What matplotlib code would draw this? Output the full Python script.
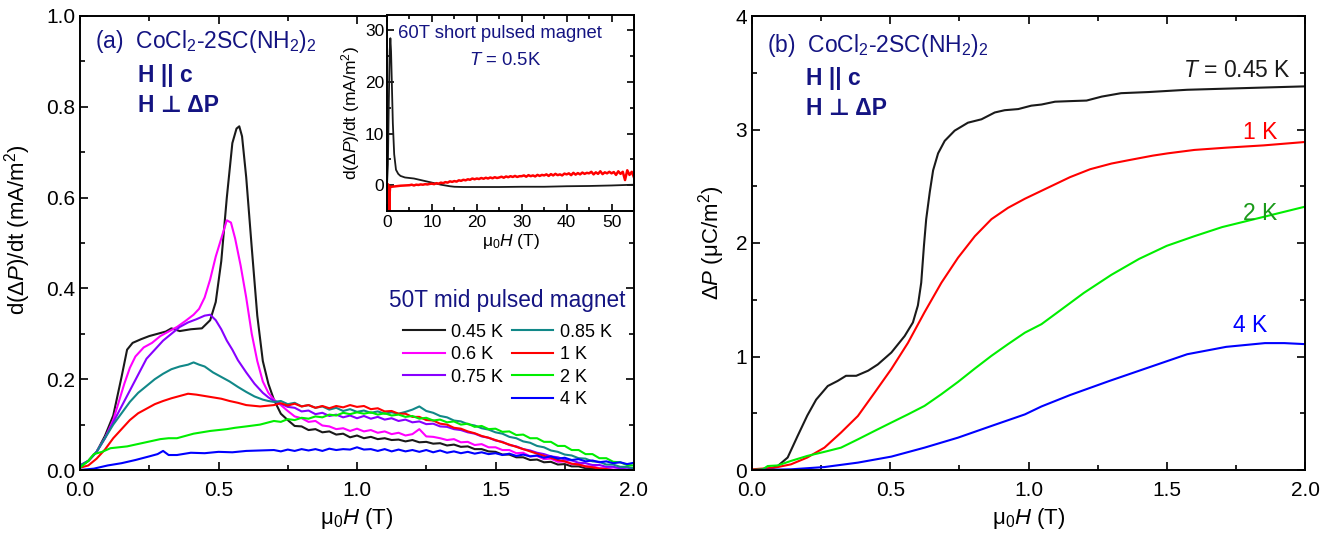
import matplotlib
matplotlib.use("Agg")
import matplotlib.pyplot as plt
from matplotlib.lines import Line2D
from matplotlib.ticker import MultipleLocator, FormatStrFormatter

plt.rcParams['font.family'] = ['Liberation Sans', 'DejaVu Sans']
plt.rcParams['mathtext.fontset'] = 'custom'
plt.rcParams['mathtext.rm'] = 'Liberation Sans'
plt.rcParams['mathtext.it'] = 'Liberation Sans:italic'
plt.rcParams['mathtext.bf'] = 'Liberation Sans:bold'

# ---------------- Panel (a) data: d(dP)/dt vs field ----------------
H_tail = [0.700, 0.725, 0.750, 0.775, 0.800, 0.825, 0.850, 0.875, 0.900, 0.925, 0.950, 0.975,
          1.000, 1.025, 1.050, 1.075, 1.100, 1.125, 1.150, 1.175, 1.200, 1.225, 1.250, 1.275,
          1.300, 1.325, 1.350, 1.375, 1.400, 1.425, 1.450, 1.475, 1.500, 1.525, 1.550, 1.575,
          1.600, 1.625, 1.650, 1.675, 1.700, 1.725, 1.750, 1.775, 1.800, 1.825, 1.850, 1.875,
          1.900, 1.925, 1.950, 1.975, 2.000]

H_045 = [0.00, 0.03, 0.06, 0.09, 0.12, 0.15, 0.17, 0.19, 0.22, 0.25, 0.28, 0.31, 0.33, 0.36, 0.40,
         0.44, 0.47, 0.49, 0.51, 0.53, 0.55, 0.565, 0.575, 0.585, 0.60, 0.62, 0.64, 0.66, 0.68] + H_tail
V_045 = [0.008, 0.02, 0.04, 0.075, 0.12, 0.205, 0.265, 0.28, 0.288, 0.295, 0.300, 0.305, 0.312, 0.306, 0.310,
         0.312, 0.33, 0.37, 0.46, 0.60, 0.72, 0.752, 0.757, 0.735, 0.645, 0.49, 0.34, 0.24, 0.19,
         0.155, 0.124, 0.110, 0.097, 0.096, 0.088, 0.090, 0.083, 0.085, 0.078, 0.080, 0.072,
         0.076, 0.070, 0.073, 0.068, 0.070, 0.066, 0.067, 0.063, 0.066, 0.061, 0.062, 0.058,
         0.059, 0.054, 0.056, 0.051, 0.052, 0.046, 0.046, 0.041, 0.040, 0.034, 0.034, 0.028,
         0.028, 0.022, 0.023, 0.017, 0.018, 0.012, 0.013, 0.008, 0.008, 0.004, 0.004, 0.001,
         0.001, -0.001, -0.002, -0.002, -0.002]

H_06 = [0.00, 0.03, 0.06, 0.09, 0.12, 0.14, 0.16, 0.18, 0.20, 0.23, 0.26, 0.29, 0.32, 0.35, 0.38, 0.41,
        0.43, 0.45, 0.47, 0.49, 0.51, 0.53, 0.545, 0.56, 0.58, 0.60, 0.62, 0.64, 0.66, 0.68] + H_tail
V_06 = [0.010, 0.02, 0.04, 0.07, 0.11, 0.15, 0.19, 0.225, 0.25, 0.27, 0.28, 0.295, 0.305, 0.315, 0.328, 0.342,
        0.355, 0.38, 0.42, 0.47, 0.51, 0.55, 0.545, 0.51, 0.45, 0.38, 0.30, 0.24, 0.195, 0.17,
        0.155, 0.143, 0.130, 0.118, 0.114, 0.106, 0.108, 0.098, 0.096, 0.090, 0.092, 0.086,
        0.091, 0.085, 0.088, 0.082, 0.085, 0.079, 0.082, 0.076, 0.079, 0.090, 0.074, 0.073,
        0.070, 0.066, 0.068, 0.061, 0.062, 0.055, 0.057, 0.050, 0.050, 0.044, 0.044, 0.037,
        0.038, 0.030, 0.031, 0.024, 0.025, 0.018, 0.019, 0.013, 0.013, 0.008, 0.008, 0.004,
        0.004, 0.001, 0.002, 0.000, 0.001]

H_075 = [0.00, 0.03, 0.06, 0.09, 0.12, 0.15, 0.18, 0.21, 0.24, 0.27, 0.30, 0.33, 0.36, 0.39, 0.42, 0.45,
         0.47, 0.49, 0.51, 0.53, 0.55, 0.57, 0.60, 0.63, 0.66, 0.68] + H_tail
V_075 = [0.010, 0.02, 0.04, 0.07, 0.105, 0.14, 0.175, 0.21, 0.245, 0.265, 0.285, 0.300, 0.315, 0.325, 0.332, 0.340,
         0.342, 0.330, 0.310, 0.285, 0.265, 0.242, 0.215, 0.190, 0.170, 0.160,
         0.152, 0.146, 0.139, 0.137, 0.129, 0.131, 0.123, 0.126, 0.119, 0.122, 0.116, 0.120,
         0.114, 0.119, 0.113, 0.117, 0.111, 0.114, 0.108, 0.111, 0.105, 0.107, 0.101, 0.102,
         0.096, 0.095, 0.090, 0.088, 0.083, 0.080, 0.074, 0.071, 0.065, 0.062, 0.055, 0.052,
         0.046, 0.043, 0.038, 0.035, 0.030, 0.028, 0.023, 0.021, 0.016, 0.015, 0.011, 0.011,
         0.007, 0.007, 0.004, 0.005, 0.003]

H_085 = [0.00, 0.03, 0.06, 0.09, 0.12, 0.15, 0.18, 0.21, 0.24, 0.27, 0.30, 0.33, 0.36, 0.39, 0.41, 0.43,
         0.45, 0.48, 0.51, 0.54, 0.57, 0.60, 0.63, 0.66, 0.68] + H_tail
V_085 = [0.010, 0.02, 0.04, 0.07, 0.10, 0.125, 0.15, 0.17, 0.185, 0.20, 0.212, 0.222, 0.228, 0.232, 0.237, 0.232,
         0.228, 0.215, 0.205, 0.195, 0.183, 0.172, 0.162, 0.155, 0.152,
         0.150, 0.152, 0.145, 0.148, 0.140, 0.143, 0.137, 0.140, 0.133, 0.137, 0.130, 0.134,
         0.128, 0.131, 0.126, 0.129, 0.124, 0.127, 0.124, 0.128, 0.133, 0.140, 0.130, 0.126,
         0.119, 0.116, 0.109, 0.107, 0.101, 0.098, 0.092, 0.089, 0.083, 0.080, 0.073, 0.070,
         0.063, 0.060, 0.053, 0.050, 0.043, 0.040, 0.034, 0.032, 0.026, 0.025, 0.019, 0.018,
         0.012, 0.012, 0.007, 0.007, 0.004]

H_1 = [0.00, 0.03, 0.06, 0.09, 0.12, 0.15, 0.18, 0.21, 0.24, 0.27, 0.30, 0.33, 0.36, 0.39, 0.42, 0.45,
       0.48, 0.51, 0.54, 0.57, 0.60, 0.65] + H_tail
V_1 = [0.005, 0.010, 0.025, 0.045, 0.070, 0.090, 0.110, 0.125, 0.135, 0.145, 0.152, 0.158, 0.163, 0.168, 0.166, 0.163,
       0.160, 0.157, 0.152, 0.148, 0.143, 0.140,
       0.143, 0.147, 0.142, 0.146, 0.140, 0.143, 0.137, 0.141, 0.136, 0.141, 0.138, 0.143,
       0.139, 0.141, 0.134, 0.136, 0.129, 0.130, 0.124, 0.124, 0.117, 0.117, 0.110, 0.109,
       0.102, 0.100, 0.093, 0.091, 0.085, 0.081, 0.075, 0.071, 0.066, 0.061, 0.056, 0.051,
       0.046, 0.041, 0.036, 0.031, 0.027, 0.022, 0.019, 0.014, 0.012, 0.008, 0.006, 0.003,
       0.002, -0.001, -0.002, -0.003, -0.003]

H_2 = [0.00, 0.03, 0.05, 0.08, 0.11, 0.14, 0.17, 0.20, 0.23, 0.26, 0.29, 0.32, 0.35, 0.38, 0.41, 0.44,
       0.47, 0.50, 0.53, 0.56, 0.60, 0.65] + H_tail
V_2 = [0.005, 0.020, 0.035, 0.040, 0.048, 0.050, 0.052, 0.056, 0.060, 0.064, 0.068, 0.070, 0.070, 0.075, 0.080, 0.083,
       0.086, 0.088, 0.090, 0.093, 0.096, 0.100,
       0.108, 0.106, 0.112, 0.110, 0.115, 0.113, 0.118, 0.116, 0.122, 0.120, 0.126, 0.123,
       0.127, 0.124, 0.127, 0.122, 0.125, 0.120, 0.122, 0.117, 0.119, 0.113, 0.115, 0.109,
       0.111, 0.105, 0.107, 0.100, 0.102, 0.095, 0.097, 0.090, 0.091, 0.084, 0.085, 0.077,
       0.078, 0.070, 0.070, 0.062, 0.062, 0.053, 0.053, 0.044, 0.044, 0.035, 0.035, 0.026,
       0.026, 0.018, 0.017, 0.011, 0.010]

H_4 = [0.00, 0.05, 0.10, 0.15, 0.20, 0.25, 0.28, 0.30, 0.32, 0.35, 0.40, 0.45, 0.50, 0.55, 0.60, 0.65] + H_tail
V_4 = [0.000, 0.003, 0.010, 0.015, 0.022, 0.030, 0.035, 0.042, 0.033, 0.033, 0.038, 0.037, 0.040, 0.039, 0.042, 0.043,
       0.044, 0.041, 0.045, 0.042, 0.046, 0.043, 0.046, 0.042, 0.047, 0.044, 0.046, 0.045,
       0.050, 0.045, 0.046, 0.042, 0.046, 0.041, 0.045, 0.041, 0.044, 0.040, 0.044, 0.039,
       0.043, 0.038, 0.041, 0.037, 0.040, 0.036, 0.039, 0.035, 0.037, 0.033, 0.036, 0.031,
       0.034, 0.030, 0.032, 0.027, 0.030, 0.025, 0.027, 0.022, 0.024, 0.019, 0.021, 0.017,
       0.019, 0.015, 0.017, 0.013, 0.016]

labels_a = ['0.45 K', '0.6 K', '0.75 K', '0.85 K', '1 K', '2 K', '4 K']
colors_a = ['#1a1a1a', '#ff00ff', '#8800ff', '#118888', '#ff0000', '#00ee00', '#0000ff']

# ---------------- Inset data: 60T short pulse, T = 0.5 K ----------------
Hin_black = [0, 0.2, 0.4, 0.6, 0.75, 0.9, 1.1, 1.3, 1.6, 2.0, 2.5, 3.0, 4, 5, 6, 7, 8, 9, 10, 11, 12,
             13, 14, 15, 17, 20, 25, 30, 35, 40, 45, 50, 55]
Vin_black = [0, 4, 16, 26, 28.5, 26, 19, 12, 6, 3, 2.2, 1.8, 1.5, 1.4, 1.3, 1.1, 0.9, 0.7, 0.5, 0.3, 0.1,
             -0.05, -0.2, -0.3, -0.35, -0.35, -0.35, -0.3, -0.3, -0.2, -0.15, -0.05, 0.1]
Hin_red = [0, 0.3, 0.45, 0.5, 0.55, 0.7, 1, 2, 3, 4,
           5.0, 5.5, 6.0, 6.5, 7.0, 7.5, 8.0, 8.5, 9.0, 9.5,
           10.0, 10.5, 11.0, 11.5, 12.0, 12.5, 13.0, 13.5, 14.0, 14.5,
           15.0, 15.5, 16.0, 16.5, 17.0, 17.5, 18.0, 18.5, 19.0, 19.5,
           20.0, 20.5, 21.0, 21.5, 22.0, 22.5, 23.0, 23.5, 24.0, 24.5,
           25.0, 25.5, 26.0, 26.5, 27.0, 27.5, 28.0, 28.5, 29.0, 29.5,
           30.0, 30.5, 31.0, 31.5, 32.0, 32.5, 33.0, 33.5, 34.0, 34.5,
           35.0, 35.5, 36.0, 36.5, 37.0, 37.5, 38.0, 38.5, 39.0, 39.5,
           40.0, 40.5, 41.0, 41.5, 42.0, 42.5, 43.0, 43.5, 44.0, 44.5,
           45.0, 45.5, 46.0, 46.5, 47.0, 47.5, 48.0, 48.5, 49.0, 49.5,
           50.0, 50.5, 51.0, 51.5, 52.0, 52.5, 53.0, 53.5, 54.0, 54.5, 55.0]
Vin_red = [0.3, 0.1, -2, -8, -2, -0.3, -0.3, -0.2, -0.1, -0.05,
           0.0, 0.1, -0.05, 0.1, 0.05, 0.15, 0.1, 0.2, 0.15, 0.25,
           0.3, 0.2, 0.4, 0.3, 0.5, 0.4, 0.6, 0.5, 0.75, 0.65,
           0.8, 0.7, 0.95, 0.85, 1.05, 0.95, 1.15, 1.05, 1.3, 1.15,
           1.3, 1.2, 1.4, 1.25, 1.45, 1.3, 1.5, 1.35, 1.55, 1.4,
           1.5, 1.65, 1.45, 1.7, 1.55, 1.75, 1.6, 1.8, 1.6, 1.75,
           1.75, 1.9, 1.65, 1.95, 1.75, 1.9, 1.7, 2.0, 1.8, 2.0,
           1.9, 2.1, 1.8, 2.15, 1.9, 2.2, 1.95, 2.1, 1.9, 2.25,
           2.1, 2.3, 1.95, 2.4, 2.05, 2.35, 2.1, 2.45, 2.2, 2.4,
           2.3, 2.6, 2.1, 2.5, 2.2, 2.7, 2.15, 2.5, 2.3, 2.6,
           2.3, 2.55, 2.0, 2.7, 2.2, 2.6, 1.0, 2.9, 2.0, 2.6, 1.5]

# ---------------- Panel (b) data: dP vs field ----------------
Hb_045 = [0.00, 0.05, 0.093, 0.129, 0.165, 0.20, 0.232, 0.274, 0.31, 0.34, 0.377, 0.42, 0.455, 0.504,
          0.552, 0.582, 0.60, 0.612, 0.622, 0.63, 0.643, 0.655, 0.673, 0.697, 0.733, 0.781, 0.83,
          0.878, 0.914, 0.963, 1.01, 1.047, 1.096, 1.15, 1.21, 1.265, 1.335, 1.434, 1.574, 1.715,
          1.855, 2.00]
Vb_045 = [0.0, 0.0, 0.035, 0.11, 0.30, 0.48, 0.62, 0.74, 0.785, 0.83, 0.83, 0.875, 0.93, 1.035,
          1.18, 1.30, 1.45, 1.65, 1.98, 2.21, 2.45, 2.64, 2.79, 2.90, 2.99, 3.06, 3.09,
          3.15, 3.17, 3.18, 3.21, 3.22, 3.245, 3.25, 3.255, 3.29, 3.32, 3.33, 3.35, 3.36,
          3.37, 3.38]
Hb_1 = [0.00, 0.081, 0.141, 0.20, 0.262, 0.322, 0.383, 0.443, 0.504, 0.564, 0.624, 0.685, 0.745,
        0.806, 0.866, 0.926, 0.987, 1.047, 1.15, 1.223, 1.30, 1.363, 1.45, 1.504, 1.60, 1.715,
        1.85, 2.00]
Vb_1 = [0.006, 0.02, 0.05, 0.11, 0.197, 0.33, 0.476, 0.68, 0.89, 1.12, 1.39, 1.65, 1.87,
        2.06, 2.21, 2.31, 2.39, 2.46, 2.58, 2.65, 2.70, 2.73, 2.77, 2.79, 2.82, 2.84,
        2.86, 2.89]
Hb_2 = [0.00, 0.039, 0.057, 0.093, 0.141, 0.20, 0.262, 0.322, 0.383, 0.443, 0.504, 0.564, 0.624,
        0.685, 0.745, 0.806, 0.866, 0.926, 0.987, 1.047, 1.10, 1.15, 1.20, 1.30, 1.40, 1.50, 1.60,
        1.70, 1.80, 1.90, 2.00]
Vb_2 = [0.0, 0.006, 0.035, 0.04, 0.08, 0.124, 0.16, 0.197, 0.27, 0.344, 0.418, 0.49, 0.565,
        0.668, 0.776, 0.894, 1.006, 1.109, 1.21, 1.285, 1.38, 1.47, 1.56, 1.72, 1.86, 1.975, 2.06,
        2.14, 2.20, 2.26, 2.32]
Hb_4 = [0.00, 0.141, 0.262, 0.383, 0.504, 0.624, 0.745, 0.866, 0.987, 1.047, 1.15, 1.293, 1.434,
        1.574, 1.715, 1.855, 1.925, 2.00]
Vb_4 = [0.0, 0.006, 0.026, 0.065, 0.118, 0.197, 0.285, 0.388, 0.49, 0.56, 0.66, 0.785, 0.903,
        1.02, 1.085, 1.118, 1.118, 1.109]

navy = '#141482'
TICK_FS = 15
ANN_FS = 16.5
LAB_FS = 16

fig = plt.figure(figsize=(13.32, 5.39), dpi=100)
ax_a = fig.add_axes([80 / 1332, 1 - 470 / 539, 554 / 1332, 454 / 539])
ax_b = fig.add_axes([752 / 1332, 1 - 470 / 539, 553 / 1332, 454 / 539])


def style(ax, fs, xpad=8):
    ax.tick_params(which='both', direction='in', top=True, right=True, labelsize=fs, width=1.2)
    ax.tick_params(which='major', length=6)
    ax.tick_params(which='minor', length=3.5)
    ax.tick_params(axis='x', pad=xpad)
    for s in ax.spines.values():
        s.set_linewidth(1.4)


# Panel (a)
series_a = [(H_045, V_045), (H_06, V_06), (H_075, V_075), (H_085, V_085), (H_1, V_1), (H_2, V_2), (H_4, V_4)]
handles = []
for (hx, vy), c, lab in zip(series_a, colors_a, labels_a):
    ln, = ax_a.plot(hx, vy, color=c, lw=1.5, label=lab)
    handles.append(ln)
ax_a.set_xlim(0, 2.0)
ax_a.set_ylim(0, 1.0)
ax_a.xaxis.set_major_locator(MultipleLocator(0.5))
ax_a.xaxis.set_minor_locator(MultipleLocator(0.25))
ax_a.yaxis.set_major_locator(MultipleLocator(0.2))
ax_a.yaxis.set_minor_locator(MultipleLocator(0.1))
ax_a.xaxis.set_major_formatter(FormatStrFormatter('%.1f'))
ax_a.yaxis.set_major_formatter(FormatStrFormatter('%.1f'))
style(ax_a, TICK_FS)
ax_a.set_xlabel(r'μ$_0$$H$ (T)', fontsize=LAB_FS, labelpad=4)
ax_a.set_ylabel(r'd(Δ$P$)/dt (mA/m$^2$)', fontsize=LAB_FS)
ax_a.yaxis.set_label_coords(-0.085, 0.529)

ax_a.text(0.027, 0.943, r'(a)  CoCl$_2$-2SC(NH$_2$)$_2$', transform=ax_a.transAxes,
          fontsize=ANN_FS, color=navy, va='center', ha='left')
ax_a.text(0.105, 0.868, 'H || c', transform=ax_a.transAxes, fontsize=ANN_FS, color=navy,
          fontweight='bold', va='center', ha='left')
ax_a.text(0.105, 0.802, 'H ⊥ ΔP', transform=ax_a.transAxes, fontsize=ANN_FS, color=navy,
          fontweight='bold', va='center', ha='left')
ax_a.text(0.558, 0.374, '50T mid pulsed magnet', transform=ax_a.transAxes, fontsize=16.3,
          color=navy, va='center', ha='left')

blank = Line2D([], [], color='none')
leg_handles = handles[:3] + [blank] + handles[3:]
leg_labels = labels_a[:3] + [''] + labels_a[3:]
ax_a.legend(leg_handles, leg_labels, ncol=2, frameon=False, fontsize=13,
            loc='upper left', bbox_to_anchor=(0.583, 0.322), handlelength=2.3,
            handletextpad=0.35, columnspacing=0.5, labelspacing=0.3, borderpad=0,
            borderaxespad=0)

# Inset
ax_in = fig.add_axes([387 / 1332, 1 - 211 / 539, 247 / 1332, 196 / 539])
ax_in.plot(Hin_black, Vin_black, color='#1a1a1a', lw=1.3)
ax_in.plot(Hin_red, Vin_red, color='#ff0000', lw=1.8)
ax_in.set_xlim(0, 55)
ax_in.set_ylim(-5, 33)
ax_in.xaxis.set_major_locator(MultipleLocator(10))
ax_in.xaxis.set_minor_locator(MultipleLocator(5))
ax_in.yaxis.set_major_locator(MultipleLocator(10))
ax_in.yaxis.set_minor_locator(MultipleLocator(5))
style(ax_in, 12.5, xpad=3)
ax_in.tick_params(which='major', length=5)
ax_in.tick_params(which='minor', length=3)
ax_in.tick_params(axis='y', pad=2)
ax_in.set_xlabel(r'μ$_0$$H$ (T)', fontsize=12.5, labelpad=1)
ax_in.set_ylabel(r'd(Δ$P$)/dt (mA/m$^2$)', fontsize=12.5, labelpad=2)
ax_in.text(0.045, 0.905, '60T short pulsed magnet', transform=ax_in.transAxes, fontsize=13.3,
           color=navy, va='center', ha='left')
ax_in.text(0.48, 0.77, r'$T$ = 0.5K', transform=ax_in.transAxes, fontsize=13.3,
           color=navy, va='center', ha='center')

# Panel (b)
ax_b.plot(Hb_045, Vb_045, color='#1a1a1a', lw=1.5)
ax_b.plot(Hb_1, Vb_1, color='#ff0000', lw=1.5)
ax_b.plot(Hb_2, Vb_2, color='#00ee00', lw=1.5)
ax_b.plot(Hb_4, Vb_4, color='#0000ff', lw=1.5)
ax_b.set_xlim(0, 2.0)
ax_b.set_ylim(0, 4)
ax_b.xaxis.set_major_locator(MultipleLocator(0.5))
ax_b.xaxis.set_minor_locator(MultipleLocator(0.25))
ax_b.yaxis.set_major_locator(MultipleLocator(1))
ax_b.yaxis.set_minor_locator(MultipleLocator(0.5))
ax_b.xaxis.set_major_formatter(FormatStrFormatter('%.1f'))
style(ax_b, TICK_FS)
ax_b.set_xlabel(r'μ$_0$$H$ (T)', fontsize=LAB_FS, labelpad=4)
ax_b.set_ylabel(r'Δ$P$ (μC/m$^2$)', fontsize=LAB_FS, labelpad=6)

ax_b.text(0.027, 0.936, r'(b)  CoCl$_2$-2SC(NH$_2$)$_2$', transform=ax_b.transAxes,
          fontsize=ANN_FS, color=navy, va='center', ha='left')
ax_b.text(0.098, 0.863, 'H || c', transform=ax_b.transAxes, fontsize=ANN_FS, color=navy,
          fontweight='bold', va='center', ha='left')
ax_b.text(0.098, 0.797, 'H ⊥ ΔP', transform=ax_b.transAxes, fontsize=ANN_FS, color=navy,
          fontweight='bold', va='center', ha='left')
ax_b.text(0.975, 0.881, r'$T$ = 0.45 K', transform=ax_b.transAxes, fontsize=ANN_FS, color='#1a1a1a',
          va='center', ha='right')
ax_b.text(0.95, 0.744, '1 K', transform=ax_b.transAxes, fontsize=ANN_FS, color='#ff0000',
          va='center', ha='right')
ax_b.text(0.95, 0.566, '2 K', transform=ax_b.transAxes, fontsize=ANN_FS, color='#1a9a1a',
          va='center', ha='right')
ax_b.text(0.932, 0.319, '4 K', transform=ax_b.transAxes, fontsize=ANN_FS, color='#0000ff',
          va='center', ha='right')

fig.savefig('out.png', dpi=100)
